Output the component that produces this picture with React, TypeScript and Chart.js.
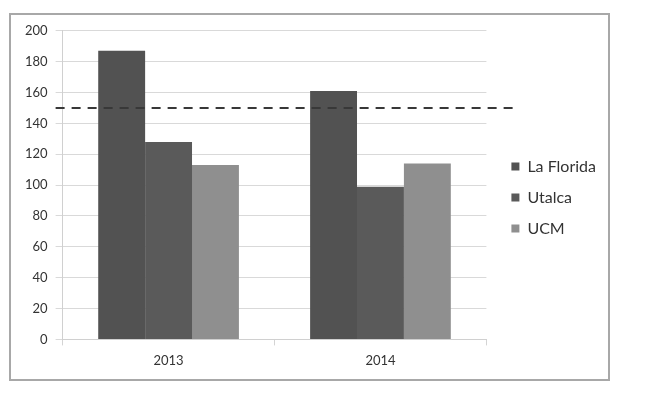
import React, { useEffect, useRef } from "react";
import { Chart, registerables } from "chart.js";

Chart.register(...registerables);

const categories = ["2013", "2014"];
const seriesNames = ["La Florida", "Utalca", "UCM"];
const laFlorida = [187, 161];
const utalca = [128, 99];
const ucm = [113, 114];
const referenceValue = 150;
const yTicksMax = 200;
const yTicksStep = 20;

const colors = ["#525252", "#5a5a5a", "#8f8f8f"];
const FONT = "Lato, 'Open Sans', sans-serif";

const refLinePlugin = {
  id: "refLine",
  afterDatasetsDraw(chart: any) {
    const { ctx, chartArea, scales } = chart;
    const y = scales.y.getPixelForValue(referenceValue);
    ctx.save();
    ctx.strokeStyle = "#383838";
    ctx.lineWidth = 2;
    ctx.setLineDash([9, 7]);
    ctx.beginPath();
    ctx.moveTo(chartArea.left - 7, y);
    ctx.lineTo(chartArea.right + 33, y);
    ctx.stroke();
    ctx.restore();
  },
};

export default function App() {
  const canvasRef = useRef<HTMLCanvasElement | null>(null);

  useEffect(() => {
    if (!canvasRef.current) return;
    const data = [laFlorida, utalca, ucm];
    const chart = new Chart(canvasRef.current, {
      type: "bar",
      data: {
        labels: categories,
        datasets: seriesNames.map((name, i) => ({
          label: name,
          data: data[i],
          backgroundColor: colors[i],
          borderWidth: 0,
          categoryPercentage: 0.664,
          barPercentage: 1.0,
          yAxisID: "y",
        })),
      },
      options: {
        animation: false,
        responsive: true,
        maintainAspectRatio: false,
        layout: { padding: { left: 6, right: 2, top: 13, bottom: 12 } },
        plugins: {
          tooltip: { enabled: false },
          legend: {
            position: "right",
            maxWidth: 160,
            labels: {
              boxWidth: 8,
              boxHeight: 8,
              padding: 15,
              color: "#333333",
              font: { family: FONT, size: 16 },
            },
          },
        },
        scales: {
          x: {
            grid: {
              offset: true,
              drawOnChartArea: false,
              drawTicks: true,
              tickLength: 6,
              color: "#d4d4d4",
            },
            border: { color: "#d0d0d0" },
            ticks: {
              padding: 8,
              color: "#333333",
              font: { family: FONT, size: 13 },
            },
            afterFit(scale: any) {
              scale.height -= 10;
            },
          },
          y: {
            min: 0,
            max: yTicksMax,
            grid: { color: "#d9d9d9", tickLength: 7 },
            border: { color: "#d0d0d0" },
            ticks: {
              stepSize: yTicksStep,
              padding: 8,
              color: "#333333",
              font: { family: FONT, size: 13 },
            },
          },
          gap: {
            type: "linear",
            position: "right",
            display: true,
            grid: { display: false, drawOnChartArea: false },
            border: { display: false },
            ticks: { display: false },
            afterFit(scale: any) {
              scale.width = 10;
            },
          },
        },
      },
      plugins: [refLinePlugin],
    });
    return () => chart.destroy();
  }, []);

  return (
    <div style={{ position: "absolute", left: 0, top: 0, width: 650, height: 395, background: "#fff" }}>
      <div
        style={{
          position: "absolute",
          left: 9,
          top: 13,
          width: 597,
          height: 364,
          border: "2px solid #a8a8a8",
        }}
      >
        <canvas ref={canvasRef} />
      </div>
    </div>
  );
}
